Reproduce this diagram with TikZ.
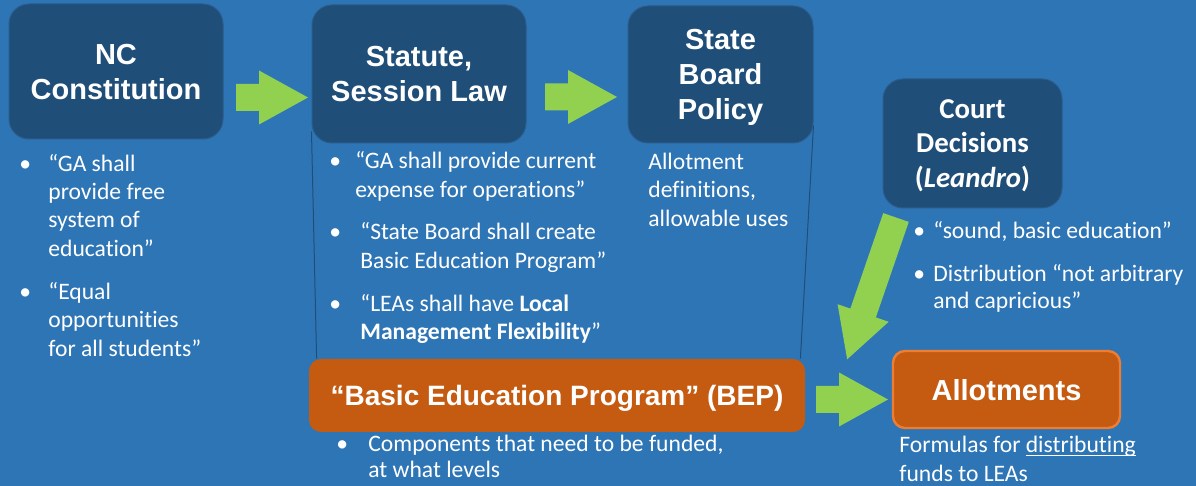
\documentclass[tikz,border=0pt]{standalone}
\usepackage{fontspec}
\setmainfont{Carlito}[RawFeature={-liga;-clig;-calt;-dlig}]
\newfontfamily\arialf{Liberation Sans}
\usetikzlibrary{calc}
\definecolor{bgblue}{HTML}{2E75B6}
\definecolor{darkbox}{HTML}{1F4E79}
\definecolor{boxedge}{HTML}{2B5C8A}
\definecolor{orangebox}{HTML}{C55A11}
\definecolor{orangeedge}{HTML}{ED7D31}
\definecolor{arrowgreen}{HTML}{92D050}
\newcommand\myul[1]{\setbox0\hbox{#1}\rlap{\rule[-1.3pt]{\wd0}{0.5pt}}\box0}
\newcommand\blockarrow[3]{%
  \fill[arrowgreen, shift={#1}, rotate=#2]
    (0,-13.5) -- (#3-49,-13.5) -- (#3-49,-27) -- (#3,0) -- (#3-49,27) -- (#3-49,13.5) -- (0,13.5) -- cycle;}
\begin{document}
\begin{tikzpicture}[x=0.5pt,y=0.5pt,
  darkbox/.style={fill=darkbox, draw=boxedge, line width=0.5pt, rounded corners=10pt,
    text=white, align=center, inner sep=0pt, text depth=0pt},
  titlef/.style={font=\arialf\bfseries\fontsize{14.5}{17.5}\selectfont},
  courtf/.style={font=\bfseries\fontsize{14.4}{17.3}\selectfont},
  orangebox/.style={fill=orangebox, rounded corners=6pt, text=white, inner sep=0pt, text depth=0pt},
  body/.style={anchor=base west, inner sep=0pt, text=white, font=\fontsize{11.8}{14}\selectfont},
  thinline/.style={draw=darkbox, line width=0.5pt}]
\fill[bgblue] (0,0) rectangle (1196,-486);
\useasboundingbox (0,0) rectangle (1196,-486);

% boxes
\node[darkbox, titlef, minimum width=107pt, minimum height=67.5pt] (nc) at (116,-71.5) {NC\\Constitution};
\node[darkbox, titlef, minimum width=107pt, minimum height=69pt] (stat) at (419,-74) {Statute,\\Session Law};
\node[darkbox, titlef, minimum width=92.5pt, minimum height=68.5pt] (sbp) at (720.5,-74.5) {State\\Board\\Policy};
\node[darkbox, courtf, minimum width=89.5pt, minimum height=64.5pt] (court) at (972.5,-143.5) {Court\\Decisions\\(\textit{Leandro})};
\node[orangebox, font=\arialf\bfseries\fontsize{14}{17}\selectfont, minimum width=248pt, minimum height=36.5pt] (bep) at (557,-395.5) {“Basic Education Program” (BEP)};
\node[orangebox, draw=orangeedge, line width=1.2pt, font=\arialf\bfseries\fontsize{14.5}{17.5}\selectfont, minimum width=113.5pt, minimum height=38.5pt] (allot) at (1006.5,-389.5) {Allotments};

% thin lines
\draw[thinline] ($(stat.south west)+(0,12)$) -- ($(bep.north west)+(8,0)$);
\draw[thinline] ($(sbp.south east)+(0,18)$) -- ($(bep.north east)+(-5,0)$);

% green block arrows
\blockarrow{(236,-97.5)}{0}{72}
\blockarrow{(545,-97)}{0}{72}
\blockarrow{(816,-399.5)}{0}{72}
\blockarrow{(896,-217.5)}{251}{150}

% NC text
\node[body] (ncb1) at (19,-172) {•};
\node[body] (nc1) at (48,-172) {“GA shall};
\node[body] (nc2) at (48,-200) {provide free};
\node[body] (nc3) at (48,-228) {system of};
\node[body] (nc4) at (48,-257) {education”};
\node[body] (ncb2) at (19,-300) {•};
\node[body] (nc5) at (48,-300) {“Equal};
\node[body] (nc6) at (48,-328) {opportunities};
\node[body] (nc7) at (48,-357) {for all students”};

% Statute text
\node[body] (stb1) at (329,-169) {•};
\node[body] (st1) at (355,-169) {“GA shall provide current};
\node[body] (st2) at (355,-198) {expense for operations”};
\node[body] (stb2) at (329,-240) {•};
\node[body] (st3) at (360,-240) {“State Board shall create};
\node[body] (st4) at (360,-269) {Basic Education Program”};
\node[body] (stb3) at (329,-312) {•};
\node[body] (st5) at (360,-312) {“LEAs shall have \textbf{Local}};
\node[body] (st6) at (360,-340) {\textbf{Management Flexibility}”};

% State board text
\node[body] (sb1) at (648,-170) {Allotment};
\node[body] (sb2) at (648,-198) {definitions,};
\node[body] (sb3) at (648,-227) {allowable uses};

% Court text
\node[body] (cb1) at (913,-239) {•};
\node[body] (c1) at (933,-239) {“sound, basic education”};
\node[body] (cb2) at (913,-282) {•};
\node[body] (c2) at (933,-282) {Distribution “not arbitrary};
\node[body] (c3) at (933,-309) {and capricious”};

% BEP text
\node[body] (bb1) at (336,-452) {•};
\node[body] (b1) at (368,-452) {Components that need to be funded,};
\node[body] (b2) at (368,-478) {at what levels};

% Allotments text
\node[body] (a1) at (899,-453) {Formulas for \myul{distributing}};
\node[body] (a2) at (899,-482) {funds to LEAs};
\end{tikzpicture}
\end{document}
